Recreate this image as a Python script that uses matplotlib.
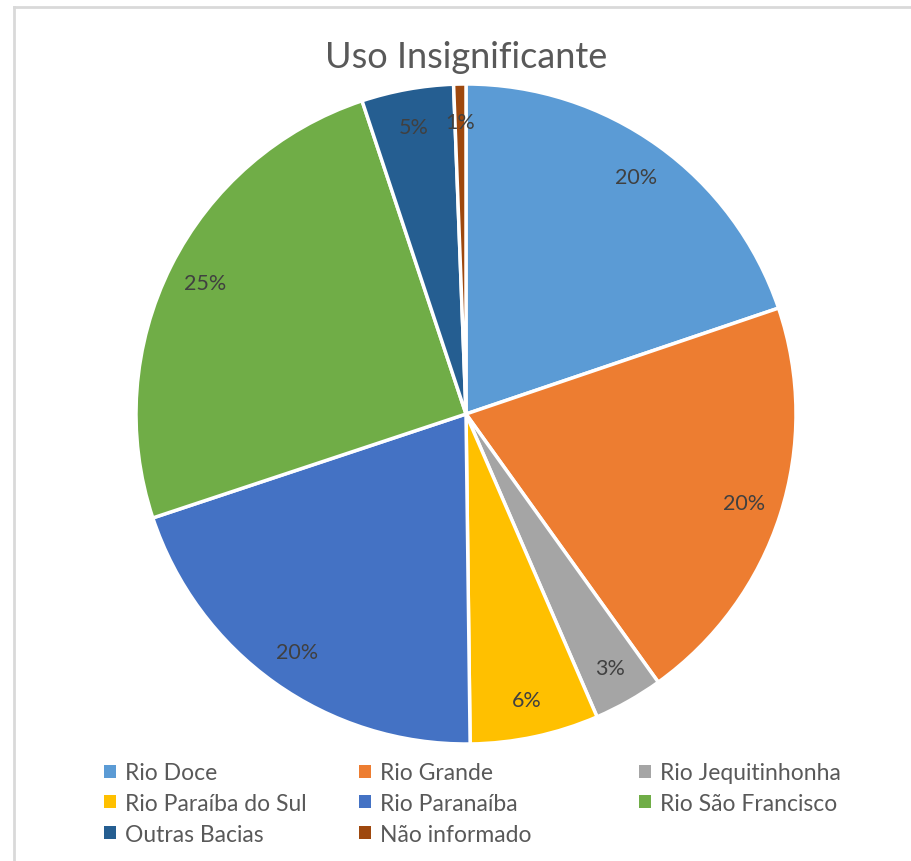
import matplotlib.pyplot as plt
from matplotlib.lines import Line2D

basins = ["Rio Doce", "Rio Grande", "Rio Jequitinhonha", "Rio Paraíba do Sul",
          "Rio Paranaíba", "Rio São Francisco", "Outras Bacias", "Não informado"]
shares = [19.8, 20.3, 3.4, 6.3, 20.1, 25.0, 4.5, 0.6]
colors = ["#5B9BD5", "#ED7D31", "#A5A5A5", "#FFC000",
          "#4472C4", "#70AD47", "#255E91", "#9E480E"]

plt.rcParams['font.family'] = ['Lato', 'DejaVu Sans']
text_color = "#595959"

W, H = 912, 862
fig = plt.figure(figsize=(W / 100, H / 100), dpi=100)

# chart frame (only left and top visible in the crop)
fig.add_artist(Line2D([14 / W, 14 / W], [0, 1 - 8 / H], color="#d9d9d9", lw=2))
fig.add_artist(Line2D([14 / W, 1], [1 - 8 / H, 1 - 8 / H], color="#d9d9d9", lw=2))

cx, cy, r = 466, 415, 330
ax = fig.add_axes([(cx - r) / W, (H - cy - r) / H, 2 * r / W, 2 * r / H])

wedges, texts, autotexts = ax.pie(
    shares, colors=colors, startangle=90, counterclock=False,
    autopct=lambda p: "{:.0f}%".format(p + 0.001), pctdistance=0.885,
    wedgeprops=dict(edgecolor="white", linewidth=2.5),
    textprops=dict(color="#404040", fontsize=15.5))
ax.set_xlim(-1, 1)
ax.set_ylim(-1, 1)
ax.set_aspect("equal")
ax.axis("off")

fig.text(cx / W, 1 - 58 / H, "Uso Insignificante", ha="center", va="center",
         fontsize=26, color=text_color)

# legend: 3 columns, filled row by row
col_x = [93, 348, 628]
for i in range(3):
    lg = fig.legend(wedges[i::3], basins[i::3], loc="upper left",
                    bbox_to_anchor=(col_x[i] / W, 1 - 752 / H),
                    frameon=False, fontsize=16.5, labelcolor=text_color,
                    handlelength=0.5, handleheight=0.5, handletextpad=0.4,
                    labelspacing=0.42, borderpad=0)
    for h in lg.legend_handles:
        h.set_edgecolor("none")

fig.savefig("out.png", dpi=100)
